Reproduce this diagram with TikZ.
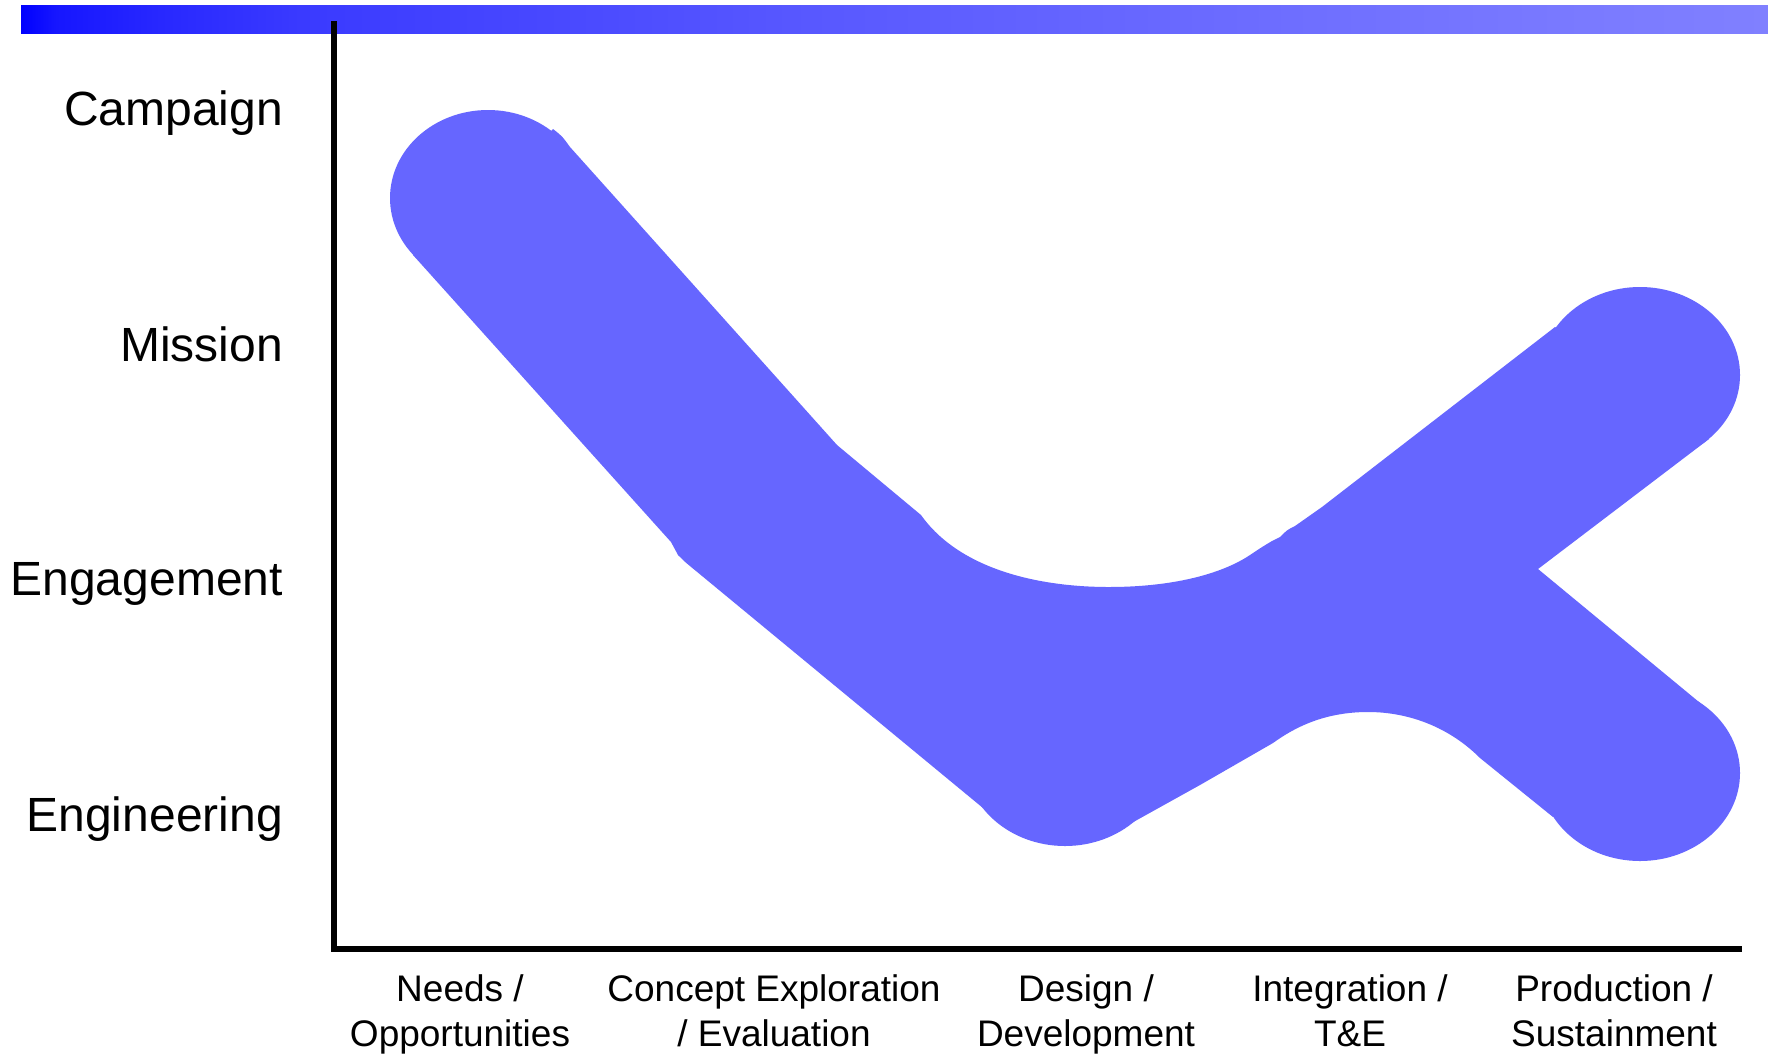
\documentclass[tikz,border=0pt]{standalone}
\usepackage{fontspec}
\setmainfont{Liberation Sans}
\definecolor{shapeblue}{RGB}{102,102,255}
\definecolor{gA}{RGB}{0,0,255}
\definecolor{gB}{RGB}{22,22,255}
\definecolor{gC}{RGB}{40,40,255}
\definecolor{gD}{RGB}{58,58,255}
\definecolor{gE}{RGB}{72,72,255}
\definecolor{gF}{RGB}{87,87,255}
\definecolor{gG}{RGB}{100,100,255}
\definecolor{gH}{RGB}{111,111,255}
\definecolor{gI}{RGB}{121,121,255}
\definecolor{gJ}{RGB}{128,128,255}
\pgfdeclarehorizontalshading{barshade}{100bp}{%
  color(0bp)=(gA); color(25bp)=(gA); color(26bp)=(gB); color(29bp)=(gC);
  color(33bp)=(gD); color(40bp)=(gE); color(47bp)=(gF); color(55bp)=(gG);
  color(62bp)=(gH); color(69bp)=(gI); color(75bp)=(gJ); color(100bp)=(gJ)}
\begin{document}
\begin{tikzpicture}[x=1pt,y=-1pt,
  ylab/.style={anchor=base east,inner sep=0pt,font=\fontsize{48}{57}\selectfont},
  xlab/.style={anchor=north,inner sep=0pt,align=center,font=\fontsize{37}{45}\selectfont},
  axisline/.style={line width=6pt,black},
  blob/.style={fill=shapeblue,draw=none}]
\useasboundingbox (0,0) rectangle (1768,1053);
\fill[white] (0,0) rectangle (1768,1053);
% top gradient bar
\shade[shading=barshade] (21,5) rectangle (1768,33);
% blue shape
\fill[blob] (488,198) ellipse [x radius=98,y radius=88];
\fill[blob] (1065,758) ellipse [x radius=100,y radius=88];
\fill[blob] (1640,375) ellipse [x radius=100,y radius=88];
\fill[blob] (1640,773) ellipse [x radius=100,y radius=88];
\fill[blob] (553,129) .. controls (562,136) .. (570,147) -- (837,445) -- (921,515)
  .. controls (960,570) and (1040,587) .. (1109,587)
  .. controls (1170,587) and (1220,575) .. (1250,555)
  .. controls (1262,547) .. (1272,541)
  -- (1280,537) .. controls (1287,530) .. (1295,526)
  -- (1322,507) -- (1555,327) -- (1640,375) -- (1709,439)
  -- (1538,569) -- (1705,707) -- (1640,773) -- (1553,817)
  -- (1480,758)
  .. controls (1450,728) and (1410,712) .. (1368,712)
  .. controls (1325,712) and (1295,727) .. (1273,743)
  -- (1200,785) -- (1128,825) -- (1065,758) -- (983,808)
  -- (696,571) .. controls (685,562) .. (678,555) -- (671,542)
  -- (413,255) -- (488,198) -- cycle;
% axes
\draw[axisline] (334,21) -- (334,952);
\draw[axisline] (333,949) -- (1742,949);
% y labels
\node[ylab] (campaign) at (283,125) {Campaign};
\node[ylab] (mission) at (283,361) {Mission};
\node[ylab] (engagement) at (283,595) {Engagement};
\node[ylab] (engineering) at (283,831) {Engineering};
% x labels
\node[xlab] (needs) at (460,974) {Needs /\\Opportunities};
\node[xlab] (concept) at (774,974) {Concept Exploration\\/ Evaluation};
\node[xlab] (design) at (1086,974) {Design /\\Development};
\node[xlab] (integ) at (1350,974) {Integration /\\T\&E};
\node[xlab] (prod) at (1614,974) {Production /\\Sustainment};
\end{tikzpicture}
\end{document}
